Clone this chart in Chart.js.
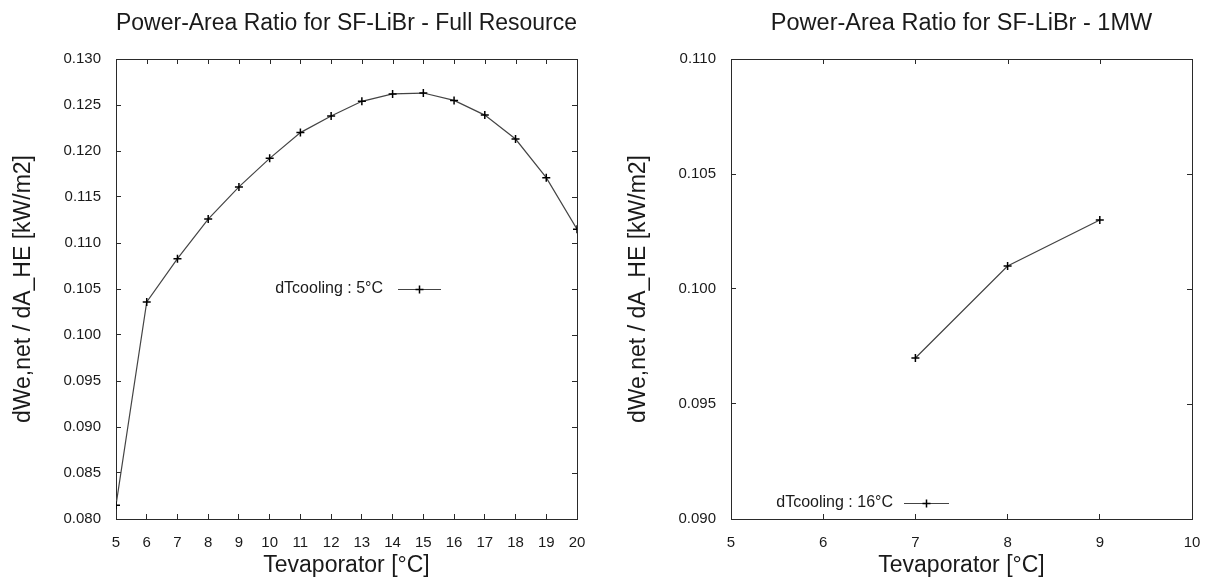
<!DOCTYPE html>
<html>
<head>
<meta charset="utf-8">
<script src="https://cdn.jsdelivr.net/npm/chart.js@4.4.1/dist/chart.umd.min.js"></script>
<style>
  html, body { margin: 0; padding: 0; background: #ffffff; }
  #wrap { position: relative; width: 1205px; height: 583px; background: #ffffff; overflow: hidden; }
  canvas { position: absolute; top: 0; }
</style>
</head>
<body>
<div id="wrap">
  <canvas id="c1" width="602" height="583" style="left:0px"></canvas>
  <canvas id="c2" width="603" height="583" style="left:602px"></canvas>
</div>
<script>
// ---- data ----
const leftTitle = 'Power-Area Ratio for SF-LiBr - Full Resource';
const rightTitle = 'Power-Area Ratio for SF-LiBr - 1MW';
const xTitle = 'Tevaporator [°C]';
const yTitle = 'dWe,net / dA_HE [kW/m2]';

const leftX = [5, 6, 7, 8, 9, 10, 11, 12, 13, 14, 15, 16, 17, 18, 19, 20];
const leftY = [0.0815, 0.1036, 0.1083, 0.1126, 0.1161, 0.1192, 0.1220, 0.1238, 0.1254, 0.1262, 0.1263, 0.1255, 0.1239, 0.1213, 0.1171, 0.1115];
const leftLabel = 'dTcooling : 5°C';
const leftXTicks = [5, 6, 7, 8, 9, 10, 11, 12, 13, 14, 15, 16, 17, 18, 19, 20];
const leftYTicks = [0.080, 0.085, 0.090, 0.095, 0.100, 0.105, 0.110, 0.115, 0.120, 0.125, 0.130];

const rightX = [7, 8, 9];
const rightY = [0.0970, 0.1010, 0.1030];
const rightLabel = 'dTcooling : 16°C';
const rightXTicks = [5, 6, 7, 8, 9, 10];
const rightYTicks = [0.090, 0.095, 0.100, 0.105, 0.110];

// ---- styling ----
const FONT = '"Liberation Sans", Arial, sans-serif';
const TXT = '#1a1a1a';
const AXIS = '#2a2a2a';
const LINE = '#444444';
const TICKLEN = 5;

// frame + mirrored ticks + gnuplot-style legend
const framePlugin = {
  id: 'frame',
  afterDatasetsDraw(chart, args, opts) {
    const ctx = chart.ctx;
    const a = chart.chartArea;
    const xs = chart.scales.x, ys = chart.scales.y;
    ctx.save();
    ctx.strokeStyle = AXIS;
    ctx.lineWidth = 1;
    ctx.beginPath();
    ctx.moveTo(Math.round(a.left) + 0.5, Math.round(a.top) + 0.5);
    ctx.lineTo(Math.round(a.right) + 0.5, Math.round(a.top) + 0.5);
    ctx.lineTo(Math.round(a.right) + 0.5, Math.round(a.bottom) + 0.5);
    ctx.stroke();
    ctx.beginPath();
    xs.ticks.forEach(t => {
      const px = Math.round(xs.getPixelForValue(t.value)) + 0.5;
      ctx.moveTo(px, Math.round(a.top));
      ctx.lineTo(px, Math.round(a.top) + TICKLEN);
    });
    ys.ticks.forEach(t => {
      const py = Math.round(ys.getPixelForValue(t.value)) + 0.5;
      ctx.moveTo(Math.round(a.right), py);
      ctx.lineTo(Math.round(a.right) - TICKLEN, py);
    });
    ctx.stroke();

    // legend (text, then line sample with marker)
    const ds = chart.data.datasets[0];
    const lx = opts.sampleX, ly = opts.sampleY, lw = opts.sampleW;
    ctx.font = '16px ' + FONT;
    ctx.fillStyle = TXT;
    ctx.textAlign = 'right';
    ctx.textBaseline = 'middle';
    ctx.fillText(ds.label, lx - opts.gap, ly);
    ctx.strokeStyle = LINE;
    ctx.lineWidth = 1.2;
    ctx.beginPath();
    ctx.moveTo(lx, ly + 0.5);
    ctx.lineTo(lx + lw, ly + 0.5);
    ctx.stroke();
    ctx.strokeStyle = '#000';
    ctx.lineWidth = 1.5;
    const cx = lx + lw / 2;
    ctx.beginPath();
    ctx.moveTo(cx - 4, ly + 0.5); ctx.lineTo(cx + 4, ly + 0.5);
    ctx.moveTo(cx, ly - 3.5); ctx.lineTo(cx, ly + 4.5);
    ctx.stroke();
    ctx.restore();
  }
};

function makeChart(id, xs, ys, label, title, xTicks, yTicks, geom) {
  const points = xs.map((x, i) => ({ x: x, y: ys[i] }));
  return new Chart(document.getElementById(id), {
    type: 'line',
    data: {
      datasets: [{
        label: label,
        data: points,
        borderColor: LINE,
        borderWidth: 1.2,
        pointStyle: 'cross',
        pointRadius: 4,
        pointBorderWidth: 1.5,
        pointBorderColor: '#000',
        pointBackgroundColor: '#000',
        tension: 0,
        fill: false
      }]
    },
    options: {
      responsive: false,
      animation: false,
      devicePixelRatio: 1,
      layout: { padding: { left: 0, right: geom.padRight, top: 0, bottom: 0 } },
      plugins: {
        legend: { display: false },
        tooltip: { enabled: false },
        title: {
          display: true,
          text: title,
          fullSize: false,
          color: TXT,
          font: { family: FONT, size: 23.5, weight: 'normal', lineHeight: 1.2 },
          padding: { top: 9, bottom: 59 - 9 - 23.5 * 1.2 }
        },
        frame: { sampleX: geom.sampleX, sampleY: geom.sampleY, sampleW: geom.sampleW, gap: geom.gap }
      },
      scales: {
        x: {
          type: 'linear',
          position: 'bottom',
          min: xTicks[0],
          max: xTicks[xTicks.length - 1],
          afterBuildTicks: s => { s.ticks = xTicks.map(v => ({ value: v })); },
          afterFit: s => { s.height = 64; s.paddingLeft = 0; s.paddingRight = 0; },
          grid: { drawOnChartArea: false, drawTicks: true, tickLength: -TICKLEN, color: AXIS, lineWidth: 1 },
          border: { display: true, color: AXIS, width: 1 },
          ticks: {
            color: TXT,
            padding: 20,
            maxRotation: 0,
            autoSkip: false,
            font: { family: FONT, size: 15 },
            callback: v => String(v)
          },
          title: {
            display: true,
            text: xTitle,
            color: TXT,
            font: { family: FONT, size: 23, lineHeight: 1.2 },
            padding: { top: 0, bottom: 3.2 }
          }
        },
        y: {
          type: 'linear',
          position: 'left',
          min: yTicks[0],
          max: yTicks[yTicks.length - 1],
          afterBuildTicks: s => { s.ticks = yTicks.map(v => ({ value: v })); },
          afterFit: s => { s.width = geom.yWidth; s.paddingTop = 0; s.paddingBottom = 0; },
          grid: { drawOnChartArea: false, drawTicks: true, tickLength: -TICKLEN, color: AXIS, lineWidth: 1 },
          border: { display: true, color: AXIS, width: 1 },
          ticks: {
            color: TXT,
            padding: 15 + TICKLEN,
            autoSkip: false,
            font: { family: FONT, size: 15 },
            callback: v => Number(v).toFixed(3)
          },
          title: {
            display: true,
            text: yTitle,
            color: TXT,
            font: { family: FONT, size: 23, lineHeight: 1.2 },
            padding: { top: geom.yTitlePad, bottom: 0 }
          }
        }
      }
    },
    plugins: [framePlugin]
  });
}

makeChart('c1', leftX, leftY, leftLabel, leftTitle, leftXTicks, leftYTicks,
  { padRight: 25, yWidth: 116, yTitlePad: 10.2, sampleX: 398, sampleY: 289, sampleW: 43, gap: 15 });
makeChart('c2', rightX, rightY, rightLabel, rightTitle, rightXTicks, rightYTicks,
  { padRight: 13, yWidth: 129, yTitlePad: 23.2, sampleX: 302, sampleY: 503, sampleW: 45, gap: 11 });
</script>
</body>
</html>
